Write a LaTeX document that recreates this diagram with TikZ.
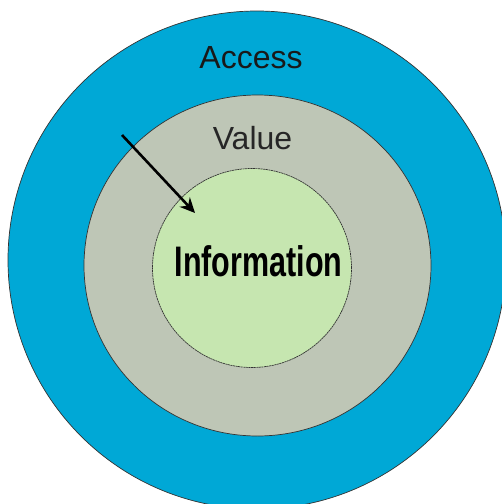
\documentclass[tikz,border=0pt]{standalone}
\usepackage{fontspec}
\setmainfont{Liberation Sans}
\usetikzlibrary{shapes.geometric,arrows.meta}
\definecolor{outerc}{RGB}{0,168,214}
\definecolor{midc}{RGB}{190,198,182}
\definecolor{innerc}{RGB}{198,230,176}
\tikzset{ring/.style={draw=black!80,line width=0.7pt,inner sep=0pt,outer sep=0pt}}
\begin{document}
\begin{tikzpicture}[x=1pt,y=-1pt]
\useasboundingbox (0,0) rectangle (502,504);
\fill[white] (0,0) rectangle (502,504);
\begin{scope}
\clip (0,0) rectangle (502,504);
\node[ring,fill=outerc,ellipse,minimum width=498pt,minimum height=498pt] (outer) at (257,260) {};
\end{scope}
\node[ring,fill=midc,ellipse,minimum width=347pt,minimum height=341pt] (mid) at (257.5,265.5) {};
\node[ring,dash pattern=on 2pt off 0.6pt,fill=innerc,circle,minimum size=199pt] (inner) at (252,268) {};
\node[font=\fontsize{32}{35}\selectfont,text=black!90] (access) at (251,58) {Access};
\node[font=\fontsize{32}{35}\selectfont,text=black!85] (value) at (252.5,138) {Value};
\node[font=\bfseries\fontsize{30.5}{33}\selectfont,yscale=1.4] (info) at (258.5,261) {Information};
\coordinate (s) at (122,135);
\coordinate (e) at (195,213);
\draw[-{Stealth[length=15pt,width=14pt]},line width=2.6pt] (s) -- (e);
\end{tikzpicture}
\end{document}
